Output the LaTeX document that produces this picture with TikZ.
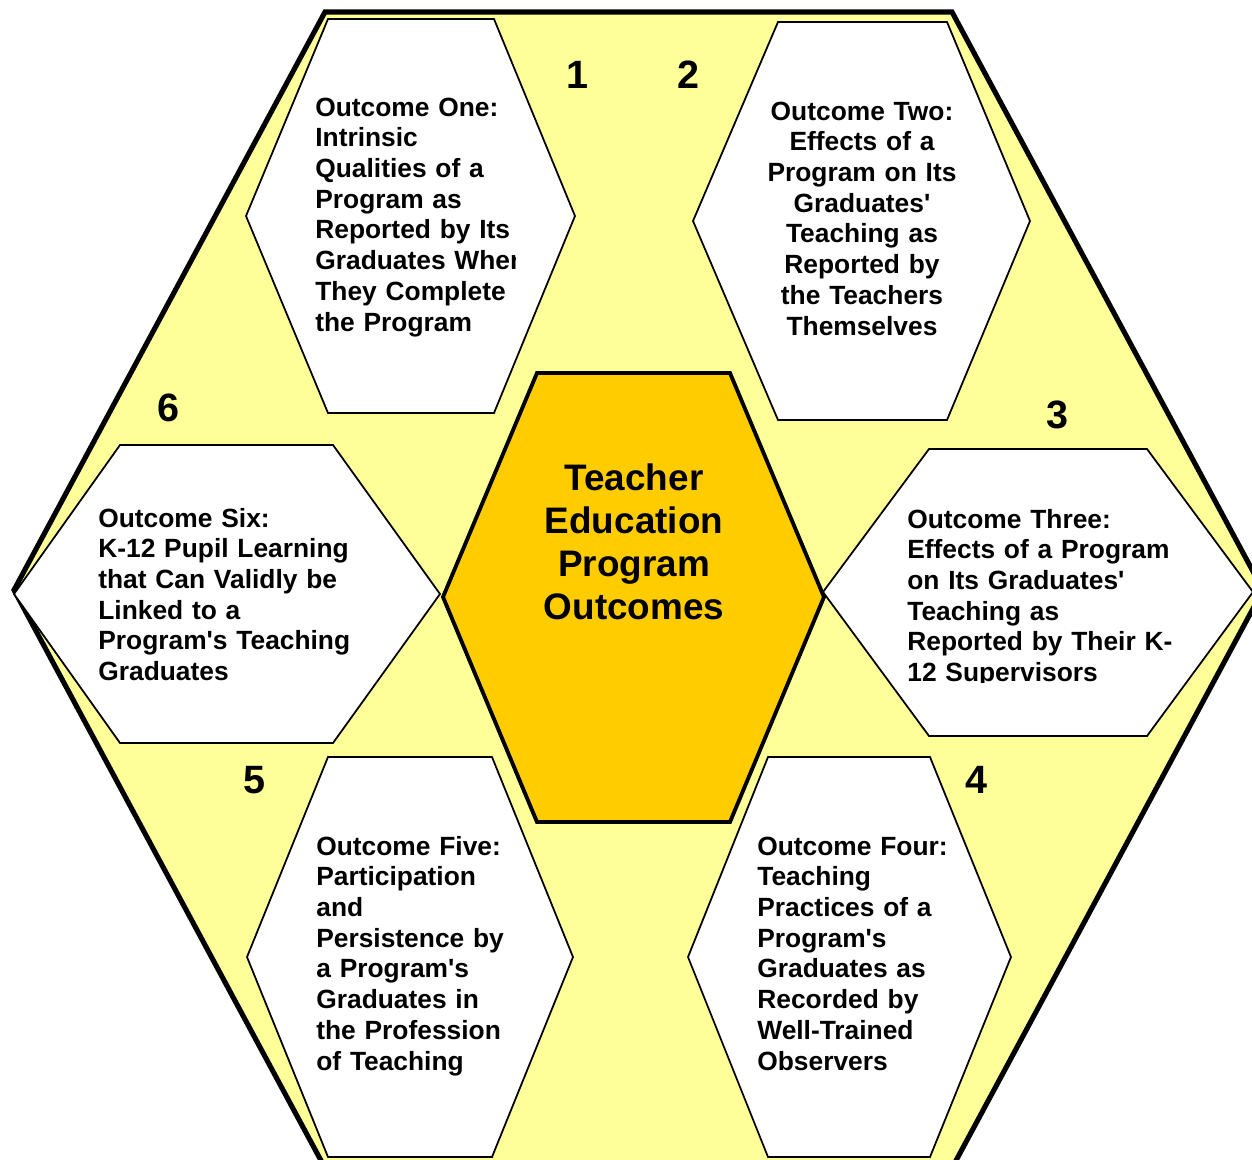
\documentclass[tikz,border=0pt]{standalone}
\usepackage{fontspec}
\setmainfont{Liberation Sans}

\definecolor{paleyellow}{HTML}{FFFF99}
\definecolor{hexgold}{HTML}{FFCC00}

\begin{document}
\begin{tikzpicture}[x=0.02cm,y=-0.02cm,
  outer hex/.style={fill=paleyellow,draw=black,line width=2.9pt,line join=miter},
  out hex/.style={fill=white,draw=black,line width=1pt},
  core hex/.style={fill=hexgold,draw=black,line width=2.2pt},
  out text/.style={anchor=base west,inner sep=0pt,text width=8cm,align=left,
    font=\fontsize{15}{17.5}\selectfont\bfseries},
  core text/.style={anchor=base,inner sep=0pt,text width=6cm,align=center,
    font=\fontsize{21}{24.5}\selectfont\bfseries},
  num node/.style={inner sep=0pt,font=\fontsize{22.5}{26}\selectfont\bfseries}]

  \clip (0,0) rectangle (1252,1160);

  % big background hexagon
  \draw[outer hex] (325,12) -- (952,12) -- (1263,590) -- (952,1168) -- (325,1168) -- (14,590) -- cycle;

  % the six outcome hexagons
  \draw[out hex] (328,19) -- (494,19) -- (575,216) -- (494,413) -- (328,413) -- (246,216) -- cycle;
  \draw[out hex] (778,22) -- (947,22) -- (1030,221) -- (947,420) -- (778,420) -- (693,221) -- cycle;
  \draw[out hex] (929,449) -- (1147,449) -- (1253,592) -- (1147,736) -- (929,736) -- (823,592) -- cycle;
  \draw[out hex] (768,757) -- (930,757) -- (1011,957) -- (930,1157) -- (768,1157) -- (688,957) -- cycle;
  \draw[out hex] (328,757) -- (492,757) -- (573,957) -- (492,1157) -- (328,1157) -- (247,957) -- cycle;
  \draw[out hex] (120,445) -- (333,445) -- (440,594) -- (333,743) -- (120,743) -- (14,594) -- cycle;

  % centre hexagon
  \draw[core hex] (537,373) -- (730,373) -- (824,597) -- (730,822) -- (537,822) -- (443,597) -- cycle;

  \node[core text] (c) at (634,490) {Teacher\\Education\\Program\\Outcomes};

  \begin{scope}
    \clip (300,80) rectangle (515,350);
    \node[out text] (o1) at (315,116) {Outcome One:\\Intrinsic\\Qualities of a\\Program as\\Reported by Its\\Graduates When\\They Complete\\the Program};
  \end{scope}
  \node[out text,anchor=base,text width=5cm,align=center] (o2) at (862,120) {Outcome Two:\\Effects of a\\Program on Its\\Graduates\textquotesingle\\Teaching as\\Reported by\\the Teachers\\Themselves};
  \begin{scope}
    \clip (890,490) rectangle (1252,682);
    \node[out text] (o3) at (907,528) {Outcome Three:\\Effects of a Program\\on Its Graduates\textquotesingle\\Teaching as\\Reported by Their K-\\12 Supervisors};
  \end{scope}
  \node[out text] (o4) at (757,855) {Outcome Four:\\Teaching\\Practices of a\\Program\textquotesingle s\\Graduates as\\Recorded by\\Well-Trained\\Observers};
  \node[out text] (o5) at (316,855) {Outcome Five:\\Participation\\and\\Persistence by\\a Program\textquotesingle s\\Graduates in\\the Profession\\of Teaching};
  \node[out text] (o6) at (98,527) {Outcome Six:\\K-12 Pupil Learning\\that Can Validly be\\Linked to a\\Program\textquotesingle s Teaching\\Graduates};

  % numbers
  \node[num node] (n1) at (577,75) {1};
  \node[num node] (n2) at (688,75) {2};
  \node[num node] (n3) at (1057,415) {3};
  \node[num node] (n4) at (976,780) {4};
  \node[num node] (n5) at (254,780) {5};
  \node[num node] (n6) at (168,408) {6};
\end{tikzpicture}
\end{document}
